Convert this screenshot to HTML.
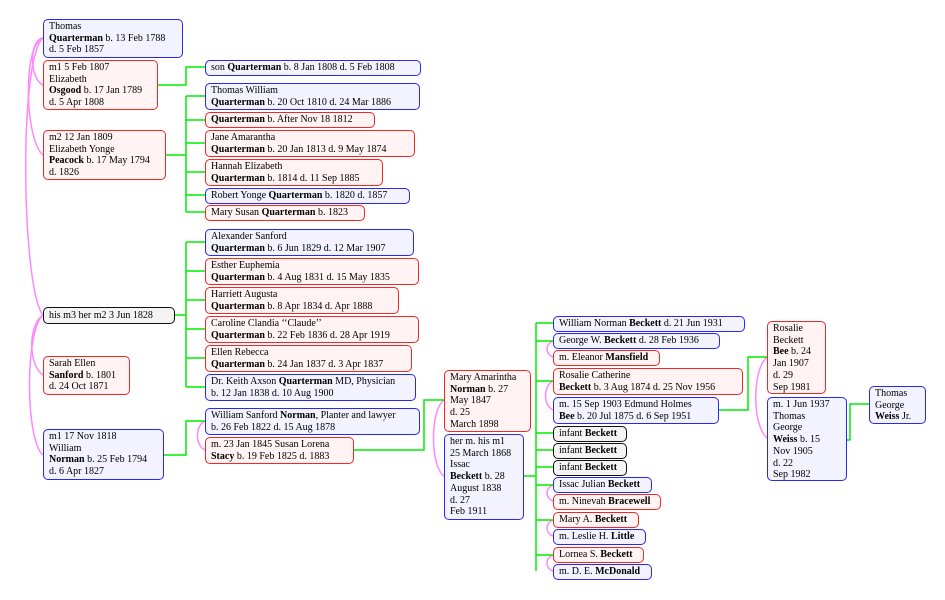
<!DOCTYPE html>
<html><head><meta charset="utf-8"><style>
body{margin:0;width:945px;height:600px;background:#fff;position:relative;overflow:hidden;font-family:"Liberation Serif",serif;font-size:10px;color:#000}
.b{position:absolute;box-sizing:border-box;border:1.6px solid;border-radius:5px;padding:1px 5px 0 5px;line-height:11.7px;white-space:nowrap;overflow:hidden}
.u{border-color:#2828f0;background:#f3f3ff}
.r{border-color:#f02828;background:#fff3f3}
.k{border-color:#111;background:#f4f4f4}
svg{position:absolute;left:0;top:0}
</style></head><body>
<svg width="945" height="600" fill="none">
<g stroke="#ff88ff" stroke-width="1.5">
<path d="M43,38 C28,40 30,80 43,85"/>
<path d="M43,38 C22,45 25,140 43,155"/>
<path d="M43,38 C18,60 22,290 43,315"/>
<path d="M43,315 C28,325 28,365 43,375"/>
<path d="M43,315 C25,330 25,440 43,455"/>
<path d="M205,421 C195,425 195,446 205,450"/>
<path d="M444,400 C430,410 430,466 444,476"/>
<path d="M553,341 C545,344 545,354 553,357"/>
<path d="M553,381 C543,386 543,405 553,410"/>
<path d="M553,485 C545,488 545,498 553,501"/>
<path d="M553,520 C545,523 545,533 553,536"/>
<path d="M553,555 C545,558 545,568 553,571"/>
<path d="M767,357 C752,370 752,425 767,438"/>
</g>
<g stroke="#00ee00" stroke-width="1.5">
<path d="M157,85 H186 V67 H205"/>
<path d="M165,155 H186 M186,96 V212 M186,96H205 M186,120H205 M186,143H205 M186,172H205 M186,195H205 M186,212H205"/>
<path d="M174,315 H186 M186,242 V387 M186,242H205 M186,271H205 M186,300H205 M186,329H205 M186,358H205 M186,387H205"/>
<path d="M163,455 H186 V421 H205"/>
<path d="M353,450 H424 V400 H444"/>
<path d="M523,476 H536 M536,323 V571 M536,323H553 M536,341H553 M536,381H553 M536,433H553 M536,450H553 M536,467H553 M536,485H553 M536,520H553 M536,555H553"/>
<path d="M718,410 H748 V357 H767"/>
<path d="M846,440 H850 V404 H869"/>
</g>
</svg>
<div class="b u" style="left:43px;top:19px;width:140px;height:39px">Thomas<br><b>Quarterman</b> b. 13 Feb 1788<br>d. 5 Feb 1857</div>
<div class="b r" style="left:43px;top:60px;width:115px;height:50px">m1 5 Feb 1807<br>Elizabeth<br><b>Osgood</b> b. 17 Jan 1789<br>d. 5 Apr 1808</div>
<div class="b r" style="left:43px;top:130px;width:123px;height:50px">m2 12 Jan 1809<br>Elizabeth Yonge<br><b>Peacock</b> b. 17 May 1794<br>d. 1826</div>
<div class="b k" style="left:43px;top:307px;width:132px;height:17px;line-height:13px">his m3 her m2 3 Jun 1828</div>
<div class="b r" style="left:43px;top:356px;width:87px;height:39px">Sarah Ellen<br><b>Sanford</b> b. 1801<br>d. 24 Oct 1871</div>
<div class="b u" style="left:43px;top:429px;width:121px;height:51px">m1 17 Nov 1818<br>William<br><b>Norman</b> b. 25 Feb 1794<br>d. 6 Apr 1827</div>

<div class="b u" style="left:205px;top:60px;width:216px;height:16px;line-height:12px">son <b>Quarterman</b> b. 8 Jan 1808 d. 5 Feb 1808</div>
<div class="b u" style="left:205px;top:83px;width:215px;height:27px">Thomas William<br><b>Quarterman</b> b. 20 Oct 1810 d. 24 Mar 1886</div>
<div class="b r" style="left:205px;top:112px;width:170px;height:16px;line-height:12px"><b>Quarterman</b> b. After Nov 18 1812</div>
<div class="b r" style="left:205px;top:130px;width:210px;height:27px">Jane Amarantha<br><b>Quarterman</b> b. 20 Jan 1813 d. 9 May 1874</div>
<div class="b r" style="left:205px;top:159px;width:178px;height:27px">Hannah Elizabeth<br><b>Quarterman</b> b. 1814 d. 11 Sep 1885</div>
<div class="b u" style="left:205px;top:188px;width:205px;height:16px;line-height:12px">Robert Yonge <b>Quarterman</b> b. 1820 d. 1857</div>
<div class="b r" style="left:205px;top:205px;width:160px;height:16px;line-height:12px">Mary Susan <b>Quarterman</b> b. 1823</div>
<div class="b u" style="left:205px;top:229px;width:209px;height:27px">Alexander Sanford<br><b>Quarterman</b> b. 6 Jun 1829 d. 12 Mar 1907</div>
<div class="b r" style="left:205px;top:258px;width:214px;height:27px">Esther Euphemia<br><b>Quarterman</b> b. 4 Aug 1831 d. 15 May 1835</div>
<div class="b r" style="left:205px;top:287px;width:194px;height:27px">Harriett Augusta<br><b>Quarterman</b> b. 8 Apr 1834 d. Apr 1888</div>
<div class="b r" style="left:205px;top:316px;width:214px;height:27px">Caroline Clandia ‘‘Claude’’<br><b>Quarterman</b> b. 22 Feb 1836 d. 28 Apr 1919</div>
<div class="b r" style="left:205px;top:345px;width:207px;height:27px">Ellen Rebecca<br><b>Quarterman</b> b. 24 Jan 1837 d. 3 Apr 1837</div>
<div class="b u" style="left:205px;top:374px;width:211px;height:27px">Dr. Keith Axson <b>Quarterman</b> MD, Physician<br>b. 12 Jan 1838 d. 10 Aug 1900</div>
<div class="b u" style="left:205px;top:408px;width:215px;height:27px">William Sanford <b>Norman</b>, Planter and lawyer<br>b. 26 Feb 1822 d. 15 Aug 1878</div>
<div class="b r" style="left:205px;top:437px;width:149px;height:27px">m. 23 Jan 1845 Susan Lorena<br><b>Stacy</b> b. 19 Feb 1825 d. 1883</div>

<div class="b r" style="left:444px;top:370px;width:87px;height:62px">Mary Amarintha<br><b>Norman</b> b. 27<br>May 1847<br>d. 25<br>March 1898</div>
<div class="b u" style="left:444px;top:434px;width:80px;height:86px">her m. his m1<br>25 March 1868<br>Issac<br><b>Beckett</b> b. 28<br>August 1838<br>d. 27<br>Feb 1911</div>

<div class="b u" style="left:553px;top:316px;width:192px;height:16px;line-height:12px">William Norman <b>Beckett</b> d. 21 Jun 1931</div>
<div class="b u" style="left:553px;top:333px;width:167px;height:16px;line-height:12px">George W. <b>Beckett</b> d. 28 Feb 1936</div>
<div class="b r" style="left:553px;top:350px;width:107px;height:16px;line-height:12px">m. Eleanor <b>Mansfield</b></div>
<div class="b r" style="left:553px;top:368px;width:190px;height:27px">Rosalie Catherine<br><b>Beckett</b> b. 3 Aug 1874 d. 25 Nov 1956</div>
<div class="b u" style="left:553px;top:397px;width:166px;height:27px">m. 15 Sep 1903 Edmund Holmes<br><b>Bee</b> b. 20 Jul 1875 d. 6 Sep 1951</div>
<div class="b k" style="left:553px;top:426px;width:74px;height:16px;line-height:12px">infant <b>Beckett</b></div>
<div class="b k" style="left:553px;top:443px;width:74px;height:16px;line-height:12px">infant <b>Beckett</b></div>
<div class="b k" style="left:553px;top:460px;width:74px;height:16px;line-height:12px">infant <b>Beckett</b></div>
<div class="b u" style="left:553px;top:477px;width:99px;height:16px;line-height:12px">Issac Julian <b>Beckett</b></div>
<div class="b r" style="left:553px;top:494px;width:108px;height:16px;line-height:12px">m. Ninevah <b>Bracewell</b></div>
<div class="b r" style="left:553px;top:512px;width:86px;height:16px;line-height:12px">Mary A. <b>Beckett</b></div>
<div class="b u" style="left:553px;top:529px;width:93px;height:16px;line-height:12px">m. Leslie H. <b>Little</b></div>
<div class="b r" style="left:553px;top:547px;width:91px;height:16px;line-height:12px">Lornea S. <b>Beckett</b></div>
<div class="b u" style="left:553px;top:564px;width:99px;height:16px;line-height:12px">m. D. E. <b>McDonald</b></div>

<div class="b r" style="left:767px;top:321px;width:59px;height:73px">Rosalie<br>Beckett<br><b>Bee</b> b. 24<br>Jan 1907<br>d. 29<br>Sep 1981</div>
<div class="b u" style="left:767px;top:397px;width:80px;height:84px">m. 1 Jun 1937<br>Thomas<br>George<br><b>Weiss</b> b. 15<br>Nov 1905<br>d. 22<br>Sep 1982</div>
<div class="b u" style="left:869px;top:386px;width:57px;height:38px">Thomas<br>George<br><b>Weiss</b> Jr.</div>
</body></html>
